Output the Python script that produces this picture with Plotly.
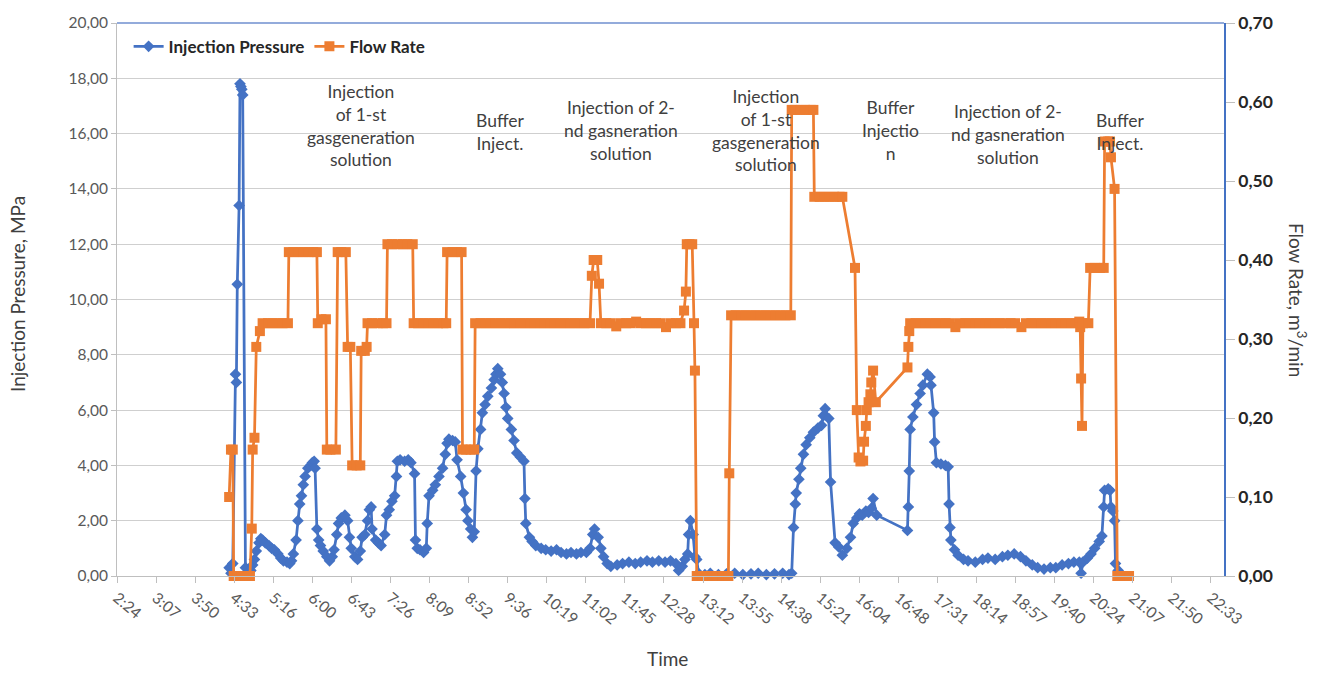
import pandas as pd
import plotly.graph_objects as go

DAY = "2000-01-01 "
FONT = "Lato, Carlito, Calibri, sans-serif"

# ---- Injection pressure (MPa), left axis ----
pressure_time = [
    "4:28", "4:30", "4:32", "4:35", "4:36", "4:37", "4:39", "4:40", "4:41", "4:42", "4:43",
    "4:46", "4:48", "4:52", "4:54", "4:56", "4:58", "5:01", "5:03", "5:05", "5:08", "5:12",
    "5:15", "5:18", "5:22", "5:25", "5:28", "5:32", "5:35", "5:37", "5:39", "5:42", "5:44",
    "5:46", "5:48", "5:50", "5:52", "5:55", "5:58", "6:00", "6:02", "6:03", "6:05", "6:07",
    "6:09", "6:12", "6:16", "6:19", "6:22", "6:24", "6:27", "6:29", "6:32", "6:36", "6:39",
    "6:41", "6:43", "6:47", "6:50", "6:53", "6:55", "6:58", "7:01", "7:03", "7:05", "7:06",
    "7:10", "7:13", "7:16", "7:20", "7:22", "7:25", "7:28", "7:31", "7:33", "7:34", "7:37",
    "7:42", "7:46", "7:49", "7:53", "7:54", "7:56", "7:59", "8:03", "8:06", "8:07", "8:09",
    "8:13", "8:16", "8:20", "8:24", "8:27", "8:29", "8:31", "8:35", "8:38", "8:40", "8:44",
    "8:47", "8:50", "8:52", "8:55", "8:57", "8:59", "9:01", "9:03", "9:06", "9:08", "9:11",
    "9:14", "9:18", "9:21", "9:23", "9:25", "9:28", "9:30", "9:32", "9:34", "9:36", "9:40",
    "9:43", "9:46", "9:50", "9:54", "9:55", "9:56", "10:00", "10:03", "10:07", "10:13", "10:18",
    "10:24", "10:30", "10:35", "10:41", "10:46", "10:52", "10:57", "11:03", "11:07", "11:10",
    "11:12", "11:16", "11:19", "11:22", "11:26", "11:30", "11:37", "11:43", "11:50", "11:57",
    "12:03", "12:10", "12:16", "12:23", "12:30", "12:36", "12:42", "12:45", "12:49", "12:52",
    "12:55", "12:56", "12:58", "13:01", "13:03", "13:05", "13:07", "13:14", "13:20", "13:29",
    "13:38", "13:47", "13:56", "14:05", "14:13", "14:22", "14:31", "14:40", "14:47", "14:50",
    "14:52", "14:54", "14:55", "14:58", "15:00", "15:03", "15:06", "15:10", "15:14", "15:19",
    "15:23", "15:25", "15:27", "15:31", "15:33", "15:38", "15:42", "15:46", "15:51", "15:55",
    "15:58", "16:02", "16:05", "16:08", "16:12", "16:15", "16:18", "16:20", "16:24", "16:58",
    "16:59", "17:00", "17:01", "17:04", "17:08", "17:12", "17:15", "17:20", "17:23", "17:24",
    "17:27", "17:28", "17:30", "17:35", "17:40", "17:43", "17:44", "17:45", "17:46", "17:50",
    "17:54", "18:00", "18:05", "18:13", "18:21", "18:27", "18:35", "18:43", "18:49", "18:56",
    "19:03", "19:09", "19:16", "19:22", "19:29", "19:36", "19:42", "19:49", "19:56", "20:02",
    "20:08", "20:10", "20:12", "20:17", "20:21", "20:25", "20:30", "20:33", "20:35", "20:36",
    "20:40", "20:42", "20:43", "20:45", "20:47", "20:48", "20:51", "20:53",
]
pressure_mpa = [
    0.30, 0.10, 0.45, 7.3, 7.0, 10.55, 13.4, 17.8, 17.7, 17.6, 17.4,
    0.3, 0.05, 0.2, 0.4, 0.6, 0.9, 1.2, 1.35, 1.3, 1.2, 1.1,
    1.0, 0.95, 0.8, 0.65, 0.55, 0.5, 0.45, 0.55, 0.8, 1.3, 2.0,
    2.6, 2.9, 3.3, 3.6, 3.9, 4.0, 4.1, 4.15, 3.9, 1.7, 1.3,
    1.1, 0.9, 0.7, 0.55, 0.7, 0.95, 1.5, 1.9, 2.1, 2.2, 2.0,
    1.4, 1.0, 0.7, 0.6, 0.9, 1.4, 1.5, 2.0, 2.4, 2.5, 1.7,
    1.3, 1.2, 1.1, 1.5, 2.2, 2.4, 2.7, 2.9, 3.6, 4.15, 4.2,
    4.15, 4.2, 4.1, 3.7, 1.3, 1.0, 0.95, 0.85, 1.0, 1.9, 2.9,
    3.1, 3.3, 3.6, 3.9, 4.4, 4.8, 4.95, 4.9, 4.85, 4.2, 3.6,
    3.0, 2.4, 2.0, 1.7, 1.4, 1.6, 3.8, 4.6, 5.3, 5.9, 6.2,
    6.5, 6.8, 7.1, 7.3, 7.5, 7.3, 7.0, 6.6, 6.1, 5.7, 5.3,
    4.9, 4.45, 4.3, 4.15, 2.8, 1.9, 1.4, 1.25, 1.1, 1.0, 0.95,
    0.9, 0.95, 0.85, 0.8, 0.85, 0.8, 0.85, 0.85, 1.0, 1.5,
    1.7, 1.4, 1.0, 0.7, 0.45, 0.35, 0.4, 0.45, 0.5, 0.45,
    0.5, 0.55, 0.5, 0.55, 0.5, 0.55, 0.45, 0.2, 0.35, 0.6,
    0.8, 1.5, 2.0, 1.5, 0.7, 0.6, 0.1, 0.05, 0.1, 0.05,
    0.08, 0.1, 0.05, 0.08, 0.1, 0.05, 0.08, 0.1, 0.05, 0.1,
    1.75, 2.6, 3.0, 3.5, 3.9, 4.4, 4.75, 5.0, 5.2, 5.35,
    5.45, 5.8, 6.05, 5.7, 3.4, 1.2, 1.05, 0.75, 1.0, 1.4,
    1.9, 2.1, 2.25, 2.2, 2.35, 2.3, 2.45, 2.8, 2.2, 1.65,
    2.5, 3.8, 5.3, 5.75, 6.2, 6.6, 6.9, 7.3, 7.2, 6.9,
    5.9, 4.85, 4.1, 4.05, 4.0, 3.95, 2.6, 1.75, 1.3, 0.95,
    0.75, 0.6, 0.55, 0.5, 0.6, 0.65, 0.6, 0.7, 0.75, 0.8,
    0.7, 0.55, 0.4, 0.3, 0.25, 0.3, 0.3, 0.4, 0.45, 0.5,
    0.5, 0.1, 0.5, 0.65, 0.8, 1.0, 1.25, 1.45, 2.5, 3.1,
    3.15, 3.1, 2.5, 2.35, 2.0, 0.45, 0.2, 0.1,
]

# ---- Flow rate (m3/min), right axis ----
flow_time = [
    "4:28", "4:30", "4:32", "4:33", "4:37", "4:42", "4:46", "4:51", "4:53", "4:54", "4:56",
    "4:58", "5:02", "5:05", "5:11", "5:16", "5:22", "5:27", "5:33", "5:34", "5:39", "5:45",
    "5:50", "5:56", "6:01", "6:05", "6:06", "6:10", "6:15", "6:16", "6:20", "6:26", "6:28",
    "6:32", "6:37", "6:39", "6:42", "6:44", "6:49", "6:53", "6:54", "6:58", "7:00", "7:01",
    "7:06", "7:12", "7:18", "7:22", "7:23", "7:28", "7:34", "7:40", "7:45", "7:51", "7:52",
    "7:57", "8:03", "8:08", "8:14", "8:19", "8:25", "8:28", "8:29", "8:35", "8:40", "8:45",
    "8:46", "8:50", "8:55", "8:59", "9:00", "9:06", "9:11", "9:17", "9:22", "9:28", "9:33",
    "9:39", "9:44", "9:50", "9:55", "10:01", "10:06", "10:12", "10:17", "10:23", "10:28",
    "10:34", "10:39", "10:45", "10:50", "10:56", "11:01", "11:07", "11:09", "11:11", "11:15",
    "11:17", "11:19", "11:25", "11:30", "11:36", "11:41", "11:47", "11:52", "11:58", "12:03",
    "12:09", "12:14", "12:20", "12:25", "12:31", "12:36", "12:42", "12:47", "12:51", "12:53",
    "12:54", "12:57", "13:00", "13:02", "13:03", "13:05", "13:11", "13:16", "13:22", "13:27",
    "13:33", "13:38", "13:40", "13:41", "13:43", "13:48", "13:54", "13:59", "14:05", "14:10",
    "14:16", "14:21", "14:27", "14:32", "14:38", "14:43", "14:49", "14:50", "14:54", "15:00",
    "15:05", "15:11", "15:14", "15:15", "15:21", "15:26", "15:32", "15:37", "15:43", "15:46",
    "16:00", "16:02", "16:04", "16:06", "16:09", "16:10", "16:12", "16:13", "16:15", "16:17",
    "16:18", "16:20", "16:23", "16:58", "16:59", "17:00", "17:01", "17:07", "17:12", "17:18",
    "17:23", "17:29", "17:34", "17:40", "17:45", "17:51", "17:56", "18:02", "18:07", "18:13",
    "18:18", "18:24", "18:29", "18:35", "18:40", "18:46", "18:52", "18:57", "19:04", "19:09",
    "19:15", "19:20", "19:26", "19:31", "19:37", "19:42", "19:48", "19:53", "19:59", "20:04",
    "20:08", "20:09", "20:10", "20:11", "20:12", "20:18", "20:20", "20:25", "20:31", "20:35",
    "20:36", "20:40", "20:42", "20:43", "20:47", "20:50", "20:54", "20:58", "21:03",
]
flow_rate = [
    0.10, 0.16, 0.16, 0.0, 0.0, 0.0, 0.0, 0.0, 0.06, 0.16, 0.175,
    0.29, 0.31, 0.32, 0.32, 0.32, 0.32, 0.32, 0.32, 0.41, 0.41, 0.41,
    0.41, 0.41, 0.41, 0.41, 0.32, 0.325, 0.325, 0.16, 0.16, 0.16, 0.41,
    0.41, 0.41, 0.29, 0.29, 0.14, 0.14, 0.14, 0.285, 0.285, 0.29, 0.32,
    0.32, 0.32, 0.32, 0.32, 0.42, 0.42, 0.42, 0.42, 0.42, 0.42, 0.32,
    0.32, 0.32, 0.32, 0.32, 0.32, 0.32, 0.32, 0.41, 0.41, 0.41, 0.41,
    0.16, 0.16, 0.16, 0.16, 0.32, 0.32, 0.32, 0.32, 0.32, 0.32, 0.32,
    0.32, 0.32, 0.32, 0.32, 0.32, 0.32, 0.32, 0.32, 0.32, 0.32,
    0.32, 0.32, 0.32, 0.32, 0.32, 0.32, 0.32, 0.38, 0.40, 0.40,
    0.37, 0.32, 0.32, 0.32, 0.316, 0.32, 0.32, 0.32, 0.322, 0.32,
    0.32, 0.32, 0.32, 0.32, 0.315, 0.32, 0.32, 0.32, 0.336, 0.36,
    0.42, 0.42, 0.42, 0.32, 0.26, 0.0, 0.0, 0.0, 0.0, 0.0,
    0.0, 0.0, 0.0, 0.13, 0.33, 0.33, 0.33, 0.33, 0.33, 0.33,
    0.33, 0.33, 0.33, 0.33, 0.33, 0.33, 0.33, 0.59, 0.59, 0.59,
    0.59, 0.59, 0.59, 0.48, 0.48, 0.48, 0.48, 0.48, 0.48, 0.48,
    0.39, 0.21, 0.15, 0.145, 0.146, 0.17, 0.19, 0.21, 0.22, 0.23,
    0.245, 0.26, 0.22, 0.264, 0.29, 0.31, 0.32, 0.32, 0.32, 0.32,
    0.32, 0.32, 0.32, 0.32, 0.32, 0.315, 0.32, 0.32, 0.32, 0.32,
    0.32, 0.32, 0.32, 0.32, 0.32, 0.32, 0.32, 0.32, 0.315, 0.32,
    0.32, 0.32, 0.32, 0.32, 0.32, 0.32, 0.32, 0.32, 0.32, 0.32,
    0.322, 0.315, 0.25, 0.19, 0.32, 0.32, 0.39, 0.39, 0.39, 0.39,
    0.55, 0.55, 0.55, 0.53, 0.49, 0.0, 0.0, 0.0, 0.0,
]

# ---- x-axis tick labels (every 43.2 min starting 2:24) ----
time_tick_labels = [
    "2:24", "3:07", "3:50", "4:33", "5:16", "6:00", "6:43", "7:26", "8:09", "8:52",
    "9:36", "10:19", "11:02", "11:45", "12:28", "13:12", "13:55", "14:38", "15:21",
    "16:04", "16:48", "17:31", "18:14", "18:57", "19:40", "20:24", "21:07", "21:50", "22:33",
]

# ---- phase labels ----
phase_labels = [
    "Injection<br>of 1-st<br>gasgeneration<br>solution",
    "Buffer<br>Inject.",
    "Injection of 2-<br>nd gasneration<br>solution",
    "Injection<br>of 1-st<br>gasgeneration<br>solution",
    "Buffer<br>Injectio<br>n",
    "Injection of 2-<br>nd gasneration<br>solution",
    "Buffer<br>Inject.",
]
phase_x = ["6:54", "9:27", "11:41", "14:22", "16:39", "18:49", "20:53"]
phase_y = [16.29, 16.05, 16.1, 16.12, 16.1, 15.95, 16.05]


def to_dt(times):
    return pd.to_datetime([DAY + t for t in times])


start = pd.Timestamp(DAY + "02:24")
tickvals = [start + pd.Timedelta(minutes=43.2 * k) for k in range(len(time_tick_labels))]

BLUE = "#4472C4"
ORANGE = "#ED7D31"

fig = go.Figure()
fig.add_trace(go.Scatter(
    x=to_dt(pressure_time), y=pressure_mpa, name="Injection Pressure",
    mode="lines+markers", line=dict(color=BLUE, width=2.75),
    marker=dict(symbol="diamond", size=9, color=BLUE), cliponaxis=False,
))
fig.add_trace(go.Scatter(
    x=to_dt(flow_time), y=flow_rate, name="Flow Rate", yaxis="y2",
    mode="lines+markers", line=dict(color=ORANGE, width=2.75),
    marker=dict(symbol="square", size=10, color=ORANGE), cliponaxis=False,
))

annotations = []
for txt, xt, yv in zip(phase_labels, phase_x, phase_y):
    annotations.append(dict(
        x=pd.Timestamp(DAY + xt), y=yv, xref="x", yref="y", text=txt,
        showarrow=False, align="center", xanchor="center", yanchor="middle",
        font=dict(family=FONT, size=17.5, color="#404040"),
    ))
annotations += [
    dict(x=-0.0894, y=0.51, xref="paper", yref="paper", text="Injection Pressure, MPa",
         textangle=-90, showarrow=False, xanchor="center", yanchor="middle",
         font=dict(family=FONT, size=19, color="#404040")),
    dict(x=1.0665, y=0.5, xref="paper", yref="paper", text="Flow Rate, m<sup>3</sup>/min",
         textangle=90, showarrow=False, xanchor="center", yanchor="middle",
         font=dict(family=FONT, size=19, color="#404040")),
    dict(x=0.4977, y=-0.15, xref="paper", yref="paper", text="Time",
         showarrow=False, xanchor="center", yanchor="middle",
         font=dict(family=FONT, size=19, color="#404040")),
]

fig.update_layout(
    width=1317, height=674,
    margin=dict(l=117, r=93, t=16, b=98),
    paper_bgcolor="white", plot_bgcolor="white",
    separators=", ",
    font=dict(family=FONT, size=15, color="#595959"),
    showlegend=True,
    legend=dict(
        orientation="h", x=0.0105, y=0.957, xanchor="left", yanchor="middle",
        font=dict(family=FONT, size=17, color="#262626", weight="bold"),
        bgcolor="rgba(0,0,0,0)", itemwidth=30,
    ),
    xaxis=dict(
        range=[DAY + "02:24", DAY + "22:48"],
        tickvals=tickvals, ticktext=time_tick_labels, tickangle=40,
        ticks="outside", ticklen=6, tickcolor="#bfbfbf",
        showline=True, linecolor="#bfbfbf", linewidth=1, showgrid=False,
        tickfont=dict(family=FONT, size=15.5, color="#595959"),
    ),
    yaxis=dict(
        range=[0, 20], dtick=2, tickformat=".2f",
        showgrid=True, gridcolor="#cfcfcf", gridwidth=1,
        showline=True, linecolor="#bfbfbf", zeroline=False,
        ticks="outside", ticklen=5, tickcolor="#bfbfbf",
        tickfont=dict(family=FONT, size=15.5, color="#595959"),
    ),
    yaxis2=dict(
        overlaying="y", side="right", range=[0, 0.7], dtick=0.1, tickformat=".2f",
        showgrid=False, showline=True, linecolor=BLUE, linewidth=1.5, zeroline=False,
        ticks="outside", ticklen=9, tickcolor="#bfbfbf",
        tickfont=dict(family=FONT, size=17.5, color="#262626", weight="bold"),
    ),
    annotations=annotations,
    shapes=[dict(type="line", xref="paper", yref="paper", x0=0, x1=1, y0=1, y1=1,
                 line=dict(color="#6f8fcf", width=1.5))],
)

fig.write_html("out.html")
